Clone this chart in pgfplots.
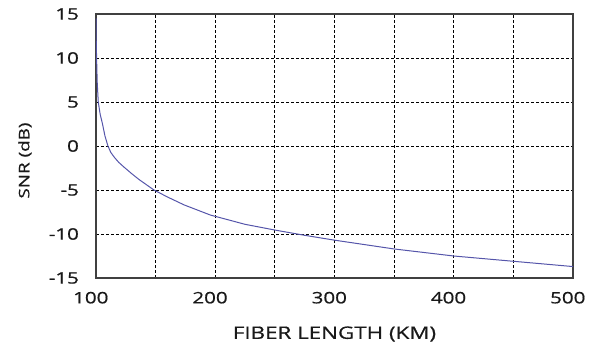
\documentclass[border=0pt]{standalone}
\usepackage{pgfplots}
\pgfplotsset{compat=1.18}
\usepackage{fontspec}
\setmainfont{Open Sans}
\newfontfamily\lblfont{Open Sans}[FakeBold=0.6]
\definecolor{curve}{RGB}{85,85,170}
\definecolor{txt}{RGB}{25,25,25}
\definecolor{frame}{RGB}{64,64,64}
\begin{document}
\begin{tikzpicture}
\useasboundingbox (-96bp,-67bp) rectangle (493bp,278bp);
\begin{axis}[
  at={(0,0)}, anchor=south west,
  scale only axis, width=477bp, height=264bp,
  xmin=100, xmax=500, ymin=-15, ymax=15,
  xtick={100,200,300,400,500},
  minor xtick={150,250,350,450},
  ytick={-15,-10,...,15},
  major tick length=0pt, minor tick length=0pt,
  grid=both,
  major grid style={black, line width=0.8bp, dash pattern=on 3bp off 2bp},
  minor grid style={black, line width=0.8bp, dash pattern=on 3bp off 2bp},
  axis line style={frame, line width=1.2bp},
  /pgf/number format/assume math mode=true,
  ticklabel style={font=\lblfont\fontsize{15.8bp}{19bp}\selectfont, text=txt, xscale=1.3},
  yticklabel style={anchor=east, inner sep=0pt, xshift=-13bp},
  xticklabel style={anchor=north, inner sep=0pt, yshift=-13.7bp, xshift=-4bp},
  xlabel={FIBER LENGTH (KM)},
  ylabel={SNR (dB)},
  xlabel style={at={(axis description cs:0.5,-0.212)}, anchor=center, font=\lblfont\fontsize{17.2bp}{20bp}\selectfont, text=txt, xscale=1.3},
  ylabel style={at={(axis description cs:-0.149,0.445)}, anchor=center, font=\lblfont\fontsize{14.5bp}{18bp}\selectfont, text=txt, xscale=1.3},
]
\addplot[curve, line width=1bp, no marks] coordinates {
(100.05,14.5) (100.2,12) (100.5,10) (101,7.3) (101.9,5) (103.5,3.6) (105.3,2.6)
(107.5,1.15) (110,0) (112.5,-0.75) (115.5,-1.3) (119,-1.85) (123.5,-2.4)
(130,-3.15) (136,-3.8) (148.6,-5) (160,-5.8) (174,-6.7) (196,-7.85)
(225,-8.9) (250,-9.55) (275,-10.15) (300,-10.7) (325,-11.2) (350,-11.7)
(375,-12.1) (400,-12.5) (425,-12.8) (450,-13.1) (475,-13.4) (500,-13.7)
};
\end{axis}
\end{tikzpicture}
\end{document}
